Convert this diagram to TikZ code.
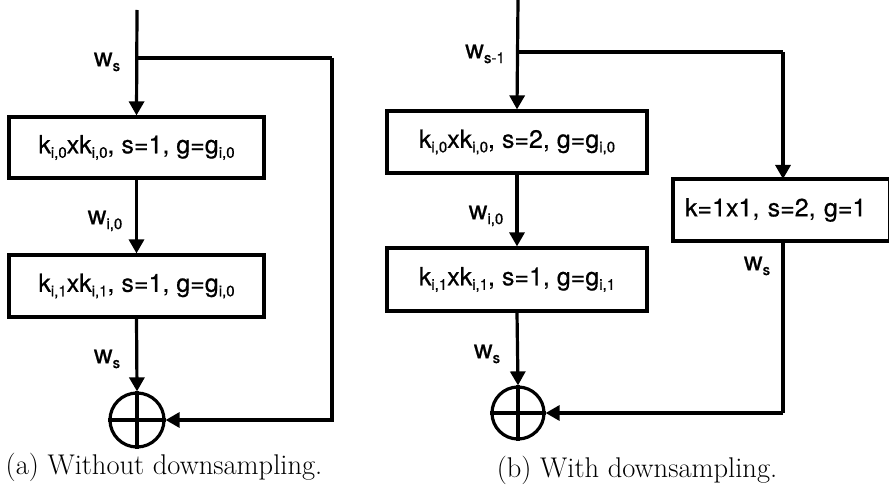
\documentclass[tikz,border=0pt]{standalone}
\usepackage{fontspec}
\newfontfamily\helv[FakeBold=0.6]{TeX Gyre Heros}
\usetikzlibrary{arrows.meta}
\newcommand\sbs[1]{\raisebox{-0.18em}{\fontsize{15}{15}\selectfont #1}}
\tikzset{
  blk/.style={draw, line width=3.2pt, inner sep=0pt, font=\helv\fontsize{25}{30}\selectfont},
  lbl/.style={inner sep=0pt, font=\helv\fontsize{26}{30}\selectfont},
  captext/.style={inner sep=0pt, font=\fontsize{28.5}{32}\selectfont},
  ln/.style={line width=3.2pt},
  arr/.style={line width=3.2pt, -{Triangle[width=15pt,length=14pt]}},
  plus/.style={draw, circle, line width=3.2pt, minimum size=54pt, inner sep=0pt}
}
\begin{document}
\begin{tikzpicture}[x=1pt,y=-1pt]
\useasboundingbox (0,0) rectangle (889,500);
% ---- (a)
\coordinate (atop) at (137,10);
\coordinate (abr) at (137,58);
\coordinate (acr) at (332,58);
\node[blk, minimum width=255pt, minimum height=61pt] (a1) at (136.5,147.5) {k\sbs{i,0}xk\sbs{i,0}, s=1, g=g\sbs{i,0}};
\node[blk, minimum width=255pt, minimum height=62pt] (a2) at (136.5,286) {k\sbs{i,1}xk\sbs{i,1}, s=1, g=g\sbs{i,0}};
\node[plus] (ap) at (137,420) {};
\draw[ln] (ap.north) -- (ap.south) (ap.west) -- (ap.east);
\draw[arr] (atop) -- (a1.north);
\draw[arr] (a1.south) -- (a2.north);
\draw[arr] (a2.south) -- (ap.north);
\draw[ln] (abr) -- (acr);
\draw[arr] (acr) |- (ap.east);
\node[lbl] (la1) at (107,62) {w\sbs{s}};
\node[lbl] (la2) at (105,221) {w\sbs{i,0}};
\node[lbl] (la3) at (107,359) {w\sbs{s}};
\node[captext] (capa) at (164,467) {(a) Without downsampling.};
% ---- (b)
\coordinate (btop) at (518,0);
\coordinate (bbr) at (518,52);
\coordinate (bcr) at (783,52);
\node[blk, minimum width=260pt, minimum height=62pt] (b1) at (517,142) {k\sbs{i,0}xk\sbs{i,0}, s=2, g=g\sbs{i,0}};
\node[blk, minimum width=260pt, minimum height=63pt] (b2) at (517,279.5) {k\sbs{i,1}xk\sbs{i,1}, s=1, g=g\sbs{i,1}};
\node[blk, minimum width=217pt, minimum height=62pt, text width=217pt, align=left] (b3) at (781.5,210) {\hspace*{12pt}k=1x1, s=2, g=1};
\coordinate (b3s) at (783,241);
\coordinate (bcr2) at (783,413);
\node[plus, minimum size=52pt] (bp) at (518,413) {};
\draw[ln] (bp.north) -- (bp.south) (bp.west) -- (bp.east);
\draw[arr] (btop) -- (b1.north);
\draw[arr] (b1.south) -- (b2.north);
\draw[arr] (b2.south) -- (bp.north);
\draw[ln] (bbr) -- (bcr);
\draw[arr] (bcr) -- (783,179);
\draw[ln] (b3s) -- (bcr2);
\draw[arr] (bcr2) -- (bp.east);
\node[lbl] (lb1) at (485,54) {w\sbs{s-1}};
\node[lbl] (lb2) at (486,216) {w\sbs{i,0}};
\node[lbl] (lb3) at (757,266) {w\sbs{s}};
\node[lbl] (lb4) at (487,354) {w\sbs{s}};
\node[captext] (capb) at (637,470) {(b) With downsampling.};
\end{tikzpicture}
\end{document}
